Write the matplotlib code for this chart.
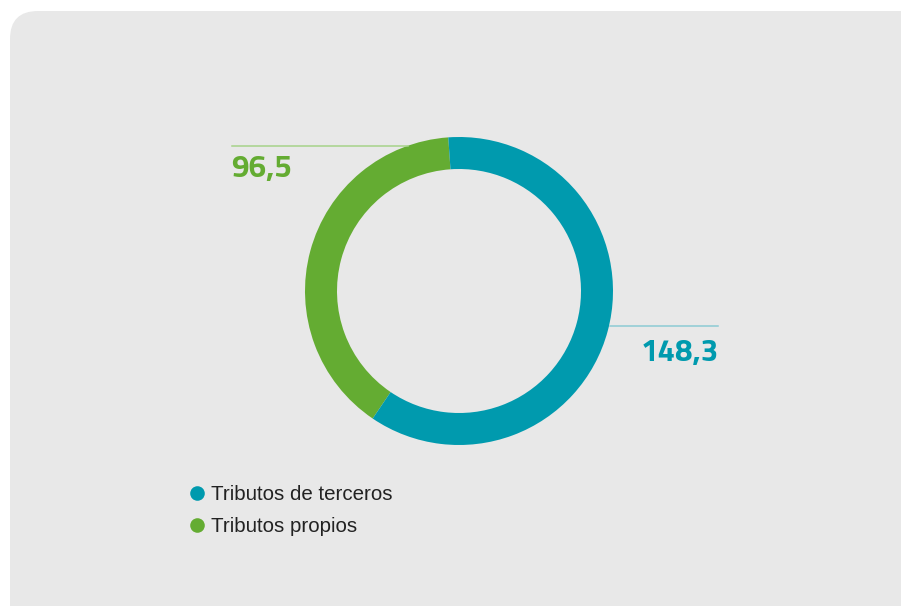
import matplotlib.pyplot as plt
from matplotlib.patches import FancyBboxPatch
from matplotlib.lines import Line2D
from matplotlib import font_manager

# data
categories = ['Tributos propios', 'Tributos de terceros']
values = [96.5, 148.3]
value_labels = ['96,5', '148,3']
colors = ['#64ac32', '#009aae']
line_colors = ['#a6d38a', '#8ccbd4']

W, H = 901, 606

# condensed bold face for the figures, Roboto if none of them is there
installed = {f.name for f in font_manager.fontManager.ttflist}
num_font = 'Roboto'
for name in ['Titillium Web', 'Saira Semi Condensed', 'Roboto Condensed',
             'Encode Sans Condensed', 'Liberation Sans Narrow']:
    if name in installed:
        num_font = name
        break

fig = plt.figure(figsize=(W / 100, H / 100), dpi=100)
fig.patch.set_facecolor('white')
ax = fig.add_axes([0, 0, 1, 1])

# grey panel with rounded corner
panel = FancyBboxPatch((10, -40), 960, H - 11 + 40,
                       boxstyle='round,pad=0,rounding_size=28',
                       fc='#e8e8e8', ec='none', zorder=0)
ax.add_patch(panel)

# donut, green first, counterclockwise from the top
cx, cy, r = 459, H - 291, 154
ax.pie(values, colors=colors, startangle=94, counterclock=True,
       center=(cx, cy), radius=r,
       wedgeprops=dict(width=32, edgecolor='none', linewidth=0),
       frame=True)

# leader lines and value labels
ax.plot([232, 408], [H - 146, H - 146], color=line_colors[0], lw=1.1, zorder=1)
ax.text(231, H - 177, value_labels[0], color=colors[0], fontsize=22.5,
        fontweight='bold', family=num_font, ha='left', va='baseline')

ax.plot([610, 718], [H - 326, H - 326], color=line_colors[1], lw=1.1, zorder=1)
ax.text(719, H - 361, value_labels[1], color=colors[1], fontsize=22.5,
        fontweight='bold', family=num_font, ha='right', va='baseline')

# legend
handles = [Line2D([], [], marker='o', ls='none', ms=10.5, mfc=colors[1], mec='none'),
           Line2D([], [], marker='o', ls='none', ms=10.5, mfc=colors[0], mec='none')]
leg = ax.legend(handles, [categories[1], categories[0]],
                loc='upper left', bbox_to_anchor=(177 / W, 1 - 475 / H),
                frameon=False, handlelength=0.9,
                handletextpad=0.25, labelspacing=0.62, borderpad=0,
                prop={'family': 'Liberation Sans', 'size': 14.8})
for t in leg.get_texts():
    t.set_color('#222222')

ax.set_xlim(0, W)
ax.set_ylim(0, H)
ax.set_aspect('equal')
ax.axis('off')

fig.savefig('out.png', dpi=100, facecolor='white')
